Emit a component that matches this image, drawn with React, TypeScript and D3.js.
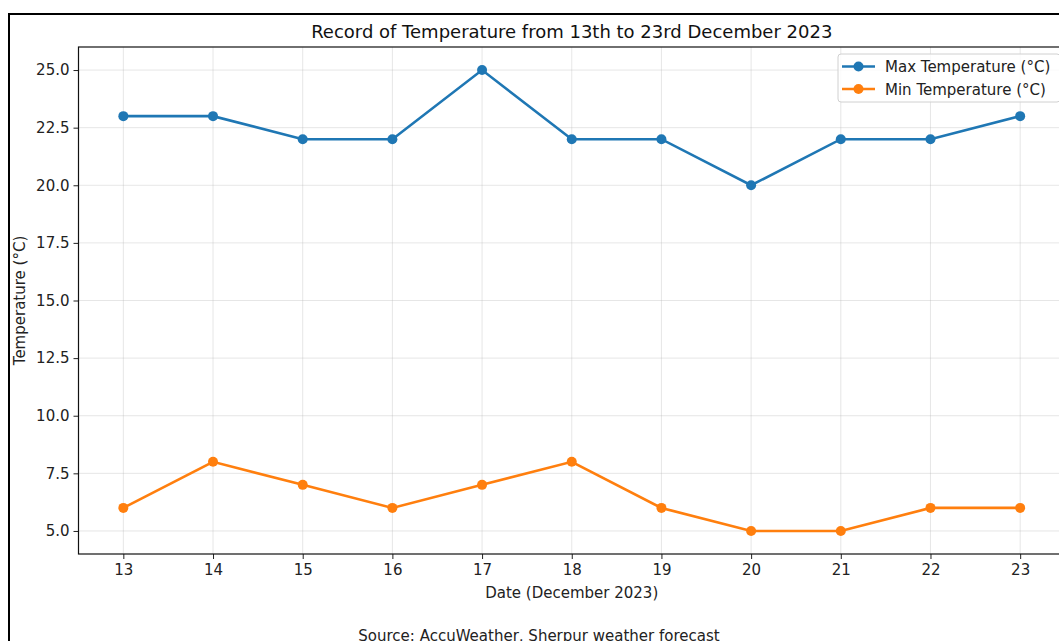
import { useRef, useEffect } from "react";
import * as d3 from "d3";

const days = [13, 14, 15, 16, 17, 18, 19, 20, 21, 22, 23];
const maxTemp = [23, 23, 22, 22, 25, 22, 22, 20, 22, 22, 23];
const minTemp = [6, 8, 7, 6, 7, 8, 6, 5, 5, 6, 6];
const yTicks = [5.0, 7.5, 10.0, 12.5, 15.0, 17.5, 20.0, 22.5, 25.0];
const seriesNames = ["Max Temperature (°C)", "Min Temperature (°C)"];
const seriesColors = ["#1f77b4", "#ff7f0e"];

const width = 1059;
const height = 641;
const font = "DejaVu Sans, sans-serif";
const fs = 15;

export default function App() {
  const svgRef = useRef<SVGSVGElement | null>(null);

  useEffect(() => {
    const svg = d3.select(svgRef.current).html(null);

    const left = 78.5, right = 1065, top = 47, bottom = 554;

    const x = d3.scaleLinear().domain([12.5, 23.5]).range([left, right]);
    const y = d3.scaleLinear().domain([4, 26]).range([bottom, top]);

    // figure border
    svg.append("rect")
      .attr("x", 9).attr("y", 14)
      .attr("width", 1070).attr("height", 700)
      .attr("fill", "white")
      .attr("stroke", "black")
      .attr("stroke-width", 2);

    // grid
    const grid = svg.append("g");
    grid.selectAll("line.gx").data(days).join("line")
      .attr("x1", d => x(d)).attr("x2", d => x(d))
      .attr("y1", top).attr("y2", bottom)
      .attr("stroke", "#b0b0b0").attr("stroke-opacity", 0.4).attr("stroke-width", 0.8);
    grid.selectAll("line.gy").data(yTicks).join("line")
      .attr("x1", left).attr("x2", right)
      .attr("y1", d => y(d)).attr("y2", d => y(d))
      .attr("stroke", "#b0b0b0").attr("stroke-opacity", 0.4).attr("stroke-width", 0.8);

    // axes
    const xAxis = svg.append("g")
      .attr("transform", `translate(0,${bottom})`)
      .call(d3.axisBottom(x).tickValues(days).tickFormat(d3.format("d")).tickSize(5).tickPadding(5));
    const yAxis = svg.append("g")
      .attr("transform", `translate(${left},0)`)
      .call(d3.axisLeft(y).tickValues(yTicks).tickFormat(d3.format(".1f")).tickSize(5).tickPadding(4));
    [xAxis, yAxis].forEach(a => {
      a.select(".domain").remove();
      a.selectAll("text").attr("font-family", font).attr("font-size", fs).attr("fill", "#222");
      a.selectAll("line").attr("stroke", "#222");
    });

    // spines
    svg.append("rect")
      .attr("x", left).attr("y", top)
      .attr("width", right - left).attr("height", bottom - top)
      .attr("fill", "none").attr("stroke", "#111").attr("stroke-width", 1.2);

    // lines
    const series = [maxTemp, minTemp];
    series.forEach((vals, i) => {
      const line = d3.line<number>().x((_, j) => x(days[j])).y(d => y(d));
      svg.append("path")
        .attr("d", line(vals))
        .attr("fill", "none")
        .attr("stroke", seriesColors[i])
        .attr("stroke-width", 2.6);
      svg.append("g").selectAll("circle").data(vals).join("circle")
        .attr("cx", (_, j) => x(days[j]))
        .attr("cy", d => y(d))
        .attr("r", 5)
        .attr("fill", seriesColors[i]);
    });

    // legend
    const lg = svg.append("g");
    lg.append("rect")
      .attr("x", 838).attr("y", 54).attr("width", 222).attr("height", 48).attr("rx", 3)
      .attr("fill", "white").attr("fill-opacity", 0.8)
      .attr("stroke", "#d0d0d0");
    seriesNames.forEach((name, i) => {
      const cy = 66.5 + i * 22.5;
      lg.append("line").attr("x1", 842).attr("x2", 875).attr("y1", cy).attr("y2", cy)
        .attr("stroke", seriesColors[i]).attr("stroke-width", 2.6);
      lg.append("circle").attr("cx", 858.5).attr("cy", cy).attr("r", 5).attr("fill", seriesColors[i]);
      lg.append("text").attr("x", 885).attr("y", cy + 5.5)
        .attr("font-family", font).attr("font-size", fs).attr("fill", "#222")
        .text(name);
    });

    // titles
    svg.append("text")
      .attr("x", (left + right) / 2).attr("y", 37.5)
      .attr("text-anchor", "middle")
      .attr("font-family", font).attr("font-size", 18).attr("fill", "#111")
      .text("Record of Temperature from 13th to 23rd December 2023");
    svg.append("text")
      .attr("x", (left + right) / 2).attr("y", 598)
      .attr("text-anchor", "middle")
      .attr("font-family", font).attr("font-size", fs).attr("fill", "#222")
      .text("Date (December 2023)");
    svg.append("text")
      .attr("transform", `translate(25,${(top + bottom) / 2}) rotate(-90)`)
      .attr("text-anchor", "middle")
      .attr("font-family", font).attr("font-size", fs).attr("fill", "#222")
      .text("Temperature (°C)");
    svg.append("text")
      .attr("x", 539).attr("y", 641)
      .attr("text-anchor", "middle")
      .attr("font-family", font).attr("font-size", fs).attr("fill", "#222")
      .text("Source: AccuWeather, Sherpur weather forecast");
  }, []);

  return (
    <svg
      ref={svgRef}
      width={width}
      height={height}
      style={{ position: "absolute", left: 0, top: 0, display: "block", background: "white" }}
    />
  );
}
